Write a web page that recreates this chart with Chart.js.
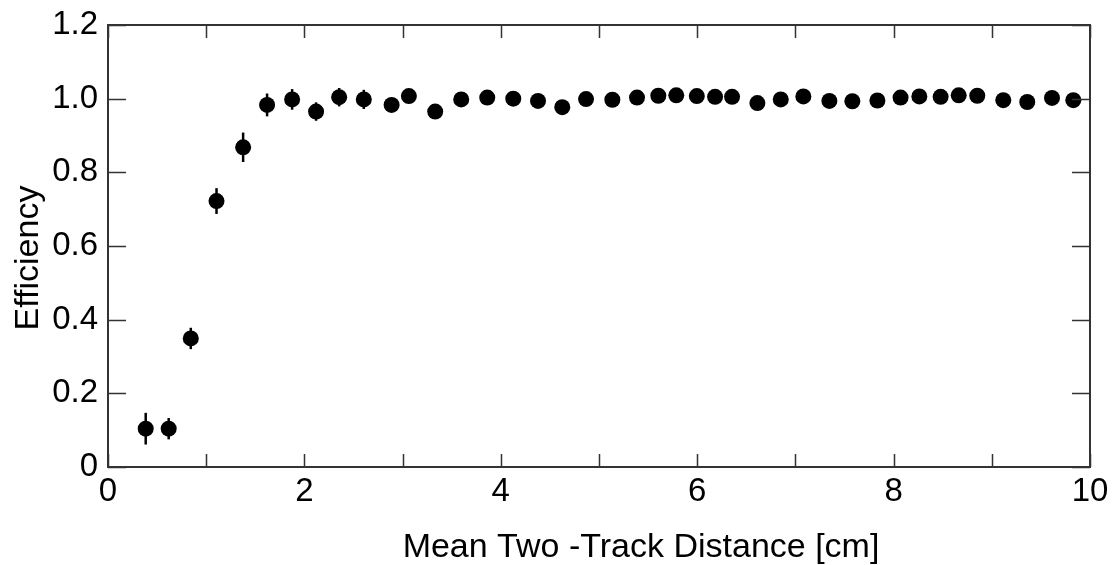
<!DOCTYPE html>
<html lang="en">
<head>
  <meta charset="UTF-8" />
  <title>Two-Track Efficiency</title>
  <style>
    html, body { margin: 0; padding: 0; background: #fff; }
    #wrap { width: 1115px; height: 565px; }
  </style>
  <script src="https://cdn.jsdelivr.net/npm/chart.js"></script>
</head>
<body>
  <div id="wrap"><canvas id="effChart"></canvas></div>

  <script>
    // mean two-track distance [cm]
    const distance = [
      0.384, 0.618, 0.843, 1.105, 1.376, 1.620, 1.875, 2.119, 2.354, 2.605,
      2.888, 3.064, 3.332, 3.597, 3.862, 4.127, 4.379, 4.626, 4.868, 5.136,
      5.387, 5.604, 5.787, 5.996, 6.182, 6.355, 6.613, 6.851, 7.081, 7.346,
      7.580, 7.835, 8.071, 8.262, 8.479, 8.663, 8.852, 9.117, 9.361, 9.613, 9.830
    ];
    const efficiency = [
      0.104, 0.104, 0.349, 0.722, 0.868, 0.983, 0.998, 0.965, 1.004, 0.998,
      0.983, 1.007, 0.965, 0.998, 1.003, 1.000, 0.994, 0.977, 0.999, 0.997,
      1.003, 1.008, 1.009, 1.007, 1.005, 1.005, 0.988, 0.998, 1.006, 0.994,
      0.993, 0.995, 1.003, 1.006, 1.005, 1.009, 1.008, 0.996, 0.991, 1.002, 0.996
    ];
    const effError = [
      0.043, 0.029, 0.029, 0.035, 0.040, 0.031, 0.028, 0.025, 0.025, 0.026,
      0.015, 0.015, 0.015, 0.012, 0.012, 0.010, 0.010, 0.010, 0.010, 0.010,
      0.010, 0.010, 0.010, 0.010, 0.010, 0.010, 0.010, 0.010, 0.010, 0.010,
      0.010, 0.010, 0.010, 0.010, 0.010, 0.010, 0.010, 0.010, 0.010, 0.010, 0.010
    ];
    const xTickLabels = ["0", "", "2", "", "4", "", "6", "", "8", "", "10"];
    const yTickLabels = ["0", "0.2", "0.4", "0.6", "0.8", "1.0", "1.2"];

    const FONT = "'Liberation Sans', Arial, Helvetica, sans-serif";
    const AXIS = "#333";

    // error bars, inside ticks on all four sides, frame and axis titles
    const framePlugin = {
      id: "frame",
      beforeDatasetsDraw(chart) {
        const ctx = chart.ctx;
        const x = chart.scales.x, y = chart.scales.y;
        ctx.save();
        ctx.strokeStyle = "#000";
        ctx.lineWidth = 2.5;
        distance.forEach((d, i) => {
          const px = x.getPixelForValue(d);
          ctx.beginPath();
          ctx.moveTo(px, y.getPixelForValue(efficiency[i] - effError[i]));
          ctx.lineTo(px, y.getPixelForValue(efficiency[i] + effError[i]));
          ctx.stroke();
        });
        ctx.restore();
      },
      afterDraw(chart) {
        const ctx = chart.ctx;
        const a = chart.chartArea;
        const x = chart.scales.x, y = chart.scales.y;
        ctx.save();
        ctx.strokeStyle = AXIS;
        ctx.lineWidth = 2;
        ctx.strokeRect(a.left, a.top, a.right - a.left, a.bottom - a.top);
        ctx.lineWidth = 1.5;
        ctx.beginPath();
        x.ticks.forEach((t) => {
          const px = Math.round(x.getPixelForValue(t.value)) + 0.5;
          ctx.moveTo(px, a.bottom); ctx.lineTo(px, a.bottom - 13);
          ctx.moveTo(px, a.top); ctx.lineTo(px, a.top + 13);
        });
        y.ticks.forEach((t) => {
          const py = Math.round(y.getPixelForValue(t.value)) + 0.5;
          ctx.moveTo(a.left, py); ctx.lineTo(a.left + 18, py);
          ctx.moveTo(a.right, py); ctx.lineTo(a.right - 18, py);
        });
        ctx.stroke();

        ctx.fillStyle = "#000";
        ctx.font = "34px " + FONT;
        ctx.textAlign = "center";
        ctx.textBaseline = "alphabetic";
        ctx.fillText("Mean Two -Track Distance [cm]", 641, 557);

        ctx.translate(38, 258);
        ctx.rotate(-Math.PI / 2);
        ctx.fillText("Efficiency", 0, 0);
        ctx.restore();
      }
    };

    const ctx = document.getElementById("effChart").getContext("2d");
    new Chart(ctx, {
      type: "scatter",
      data: {
        datasets: [{
          label: "Efficiency",
          data: distance.map((d, i) => ({ x: d, y: efficiency[i] })),
          backgroundColor: "#000",
          borderColor: "#000",
          pointRadius: 8,
          pointHoverRadius: 8,
          borderWidth: 0
        }]
      },
      options: {
        responsive: true,
        maintainAspectRatio: false,
        animation: false,
        layout: { padding: { top: 25, right: 25, left: 0, bottom: 0 } },
        plugins: {
          legend: { display: false },
          tooltip: { enabled: false }
        },
        scales: {
          x: {
            type: "linear",
            min: 0,
            max: 10,
            afterFit: (s) => { s.height = 98; s.paddingLeft = 0; s.paddingRight = 0; },
            grid: { display: false, drawTicks: false },
            border: { display: false },
            ticks: {
              stepSize: 1,
              autoSkip: false,
              maxRotation: 0,
              padding: 5,
              color: "#000",
              font: { family: FONT, size: 33 },
              callback: (v, i) => xTickLabels[i]
            }
          },
          y: {
            min: 0,
            max: 1.2,
            afterFit: (s) => { s.width = 108; s.paddingTop = 0; s.paddingBottom = 0; },
            grid: { display: false, drawTicks: false },
            border: { display: false },
            ticks: {
              stepSize: 0.2,
              padding: 10,
              color: "#000",
              font: { family: FONT, size: 33 },
              callback: (v, i) => yTickLabels[i]
            }
          }
        }
      },
      plugins: [framePlugin]
    });
  </script>
</body>
</html>
